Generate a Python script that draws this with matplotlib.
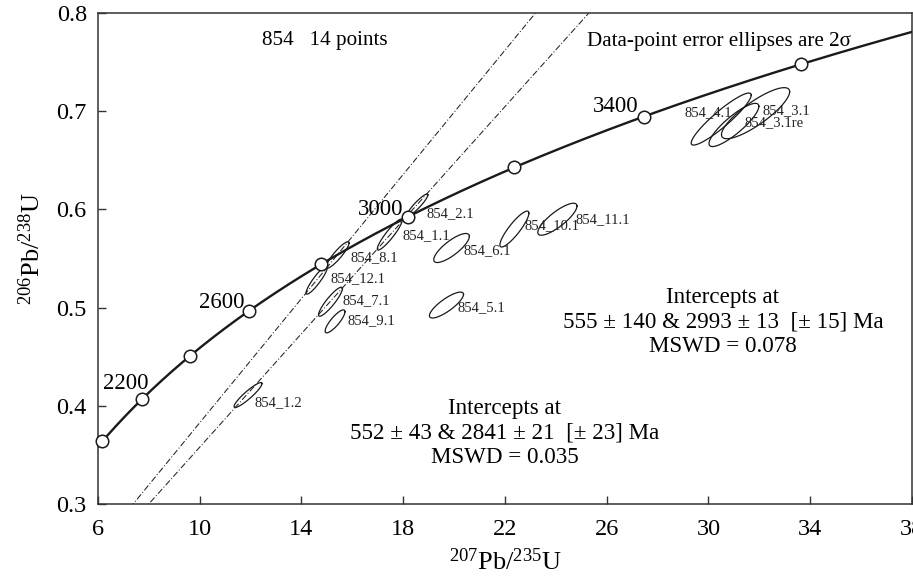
import numpy as np
import matplotlib
matplotlib.use('Agg')
from matplotlib import pyplot as plt

plt.rcParams['font.family'] = ['Liberation Serif', 'DejaVu Serif']
plt.rcParams['mathtext.fontset'] = 'custom'
plt.rcParams['mathtext.rm'] = 'Liberation Serif'

# decay constants (1/yr)
L238 = 1.55125e-10
L235 = 9.8485e-10

# concordia age marks (Ma)
age_marks = [2000, 2200, 2400, 2600, 2800, 3000, 3200, 3400, 3600]
age_labels = [2200, 2600, 3000, 3400]

# spots: 207Pb/235U, 2s, 206Pb/238U, 2s, rho
spot_names = ['854_1.2', '854_2.1', '854_1.1', '854_8.1', '854_12.1', '854_7.1', '854_9.1',
              '854_6.1', '854_5.1', '854_10.1', '854_11.1', '854_4.1', '854_3.1', '854_3.1re']
pb207_u235 = [11.90, 18.56, 17.47, 15.42, 14.60, 15.14, 15.32, 19.90, 19.70, 22.37, 24.06, 30.50, 31.85, 31.00]
err_207 = [0.55, 0.41, 0.49, 0.45, 0.42, 0.47, 0.39, 0.70, 0.67, 0.57, 0.77, 1.18, 1.34, 0.98]
pb206_u238 = [0.411, 0.6045, 0.5744, 0.5536, 0.528, 0.506, 0.486, 0.5607, 0.5026, 0.580, 0.590, 0.692, 0.698, 0.686]
err_206 = [0.0127, 0.0112, 0.0158, 0.0135, 0.0143, 0.0148, 0.0117, 0.0148, 0.0132, 0.0183, 0.0163, 0.0265, 0.026, 0.022]
rho = [0.92, 0.92, 0.92, 0.90, 0.91, 0.90, 0.84, 0.80, 0.82, 0.88, 0.82, 0.92, 0.84, 0.86]

# discordia intercepts (Ma)
discordia = [(552, 2841), (555, 2993)]


def conc(t_ma):
    t = np.asarray(t_ma) * 1e6
    return np.exp(L235 * t) - 1, np.exp(L238 * t) - 1


fig = plt.figure(figsize=(9.13, 5.78), dpi=100)
ax = fig.add_axes([0.1073, 0.128, 0.8916, 0.8495])

# concordia curve
tt = np.linspace(1900, 3800, 600)
cx, cy = conc(tt)
ax.plot(cx, cy, color='#1a1a1a', lw=1.7, zorder=3)
mx, my = conc(age_marks)
ax.plot(mx, my, 'o', ms=9, mfc='white', mec='#1a1a1a', mew=1.1, zorder=4, clip_on=False)

lab_pos = {2200: (8.0, 0.4232), 2600: (11.78, 0.5047), 3000: (17.99, 0.5994), 3400: (27.23, 0.7043)}
for a in age_labels:
    ax.text(lab_pos[a][0], lab_pos[a][1], str(a), ha='right', va='center', fontsize=16.5)

# discordia lines
for lo, hi in discordia:
    x1, y1 = conc(lo)
    x2, y2 = conc(hi)
    xs = np.array([0.0, 40.0])
    ys = y1 + (y2 - y1) / (x2 - x1) * (xs - x1)
    ax.plot(xs, ys, color='#222222', lw=0.75, ls=(0, (6, 2, 1, 2)), zorder=2)

# error ellipses
t = np.linspace(0, 2 * np.pi, 200)
for i in range(len(spot_names)):
    ex = pb207_u235[i] + err_207[i] * np.cos(t)
    ey = pb206_u238[i] + err_206[i] * (rho[i] * np.cos(t) + np.sqrt(1 - rho[i] ** 2) * np.sin(t))
    ax.plot(ex, ey, color='#1a1a1a', lw=0.9, zorder=2)

spot_text = [(12.17, 0.4029), (18.93, 0.5953), (17.99, 0.5729), (15.91, 0.5505), (15.16, 0.5291),
             (15.63, 0.5067), (15.79, 0.4864), (20.35, 0.5576), (20.15, 0.4996), (22.75, 0.5831),
             (24.79, 0.5892), (29.07, 0.6982), (32.14, 0.7002), (31.43, 0.688)]
for name, (tx, ty) in zip(spot_names, spot_text):
    ax.text(tx, ty, name, fontsize=10.5, ha='left', va='center', color='#222222')

ax.text(12.45, 0.7725, '854   14 points', fontsize=15.2, ha='left', va='center')
ax.text(25.22, 0.7705, 'Data-point error ellipses are 2σ', fontsize=15.2, ha='left', va='center')

ax.text(22.0, 0.3723, 'Intercepts at\n552 ± 43 & 2841 ± 21  [± 23] Ma\nMSWD = 0.035',
        fontsize=16.6, ha='center', va='center', linespacing=1.2)
ax.text(30.57, 0.4853, 'Intercepts at\n555 ± 140 & 2993 ± 13  [± 15] Ma\nMSWD = 0.078',
        fontsize=16.6, ha='center', va='center', linespacing=1.2)

ax.set_xlim(6, 38)
ax.set_ylim(0.3, 0.8)
ax.set_xticks([6, 10, 14, 18, 22, 26, 30, 34, 38])
ax.set_yticks([0.3, 0.4, 0.5, 0.6, 0.7, 0.8])
ax.set_yticklabels(['0.3', '0.4', '0.5', '0.6', '0.7', '0.8'])
ax.tick_params(direction='in', length=6, width=1, labelsize=17.5, color='#333333')
ax.tick_params(axis='x', pad=11)
ax.tick_params(axis='y', pad=8)
for s in ax.spines.values():
    s.set_linewidth(1.1)
    s.set_color('#333333')

ax.set_xlabel(r'$\mathrm{^{207}}$Pb/$\mathrm{^{235}}$U', fontsize=19, labelpad=6)
ax.set_ylabel(r'$\mathrm{^{206}}$Pb/$\mathrm{^{238}}$U', fontsize=19)
ax.yaxis.set_label_coords(-0.065, 0.52)

fig.savefig('out.png', dpi=100)
